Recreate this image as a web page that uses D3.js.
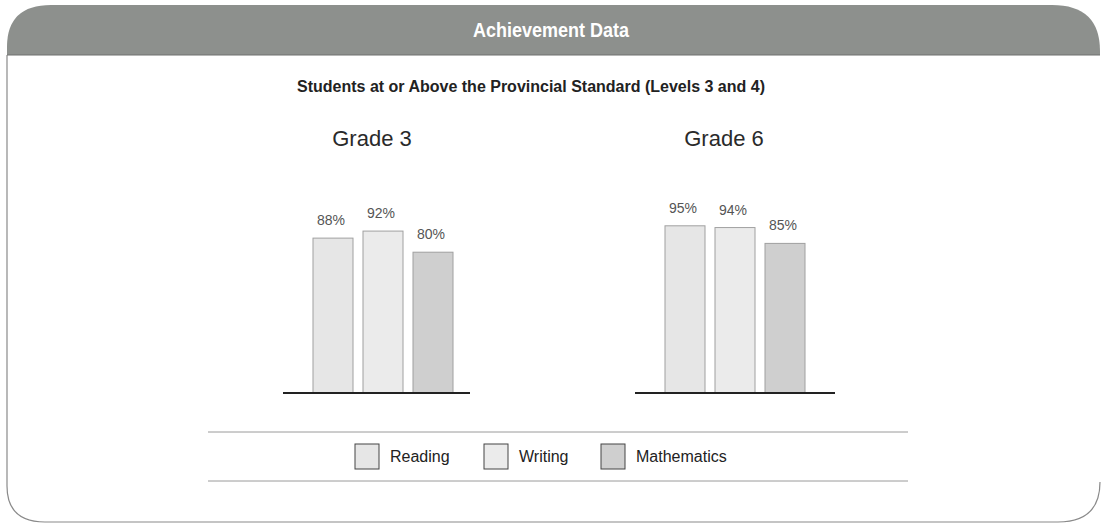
<!DOCTYPE html>
<html>
<head>
<meta charset="utf-8">
<script src="https://cdn.jsdelivr.net/npm/d3@7"></script>
<style>
  body { margin: 0; background: #fff; }
  svg { display: block; font-family: "Liberation Sans", Arial, sans-serif; }
</style>
</head>
<body>
<div id="chart"></div>
<script>
// data
var grades = ["Grade 3", "Grade 6"];
var subjects = ["Reading", "Writing", "Mathematics"];
var grade3 = [88, 92, 80];
var grade6 = [95, 94, 85];
var colours = ["#e6e6e6", "#ebebeb", "#cfcfcf"];

var W = 1102, H = 525;
var svg = d3.select("#chart").append("svg")
    .attr("width", W)
    .attr("height", H);

// card outline + header
var L = 7, T = 5, R = 1100, B = 522, hb = 55;
svg.append("path")
    .attr("d", "M" + L + "," + hb + " L" + L + "," + (B - 36) +
        " Q" + L + "," + B + " " + (L + 38) + "," + B +
        " L" + (R - 42) + "," + B +
        " Q" + R + "," + B + " " + R + "," + (B - 40))
    .attr("fill", "none")
    .attr("stroke", "#8a8a8a")
    .attr("stroke-width", 1.2);

svg.append("path")
    .attr("d", "M" + L + "," + hb + " L" + L + "," + (T + 42) +
        " Q" + L + "," + T + " " + (L + 44) + "," + T +
        " L" + (R - 48) + "," + T +
        " Q" + R + "," + T + " " + R + "," + (hb - 4) +
        " L" + R + "," + hb + " Z")
    .attr("fill", "#8d908d");
svg.append("line")
    .attr("x1", L).attr("x2", R).attr("y1", hb).attr("y2", hb)
    .attr("stroke", "#6f716f").attr("stroke-width", 1);

// condensed header title
svg.append("text")
    .attr("transform", "translate(551,37) scale(0.9,1)")
    .attr("text-anchor", "middle")
    .style("font-weight", "bold")
    .style("font-size", "20px")
    .style("fill", "#fff")
    .text("Achievement Data");

svg.append("text")
    .attr("x", 531).attr("y", 92)
    .attr("text-anchor", "middle")
    .style("font-size", "16px")
    .style("font-weight", "bold")
    .style("fill", "#222")
    .text("Students at or Above the Provincial Standard (Levels 3 and 4)");

var y = d3.scaleLinear().domain([0, 100]).range([393, 217]);

var groups = [
  {name: grades[0], values: grade3, range: [308, 458], axis: [283, 470], cx: 372},
  {name: grades[1], values: grade6, range: [660, 810], axis: [635, 835], cx: 724}
];

groups.forEach(function(g) {
    var x = d3.scaleBand().domain(subjects).range(g.range)
        .paddingInner(0.2).paddingOuter(0.1);
    var gg = svg.append("g");

    gg.append("text")
        .attr("x", g.cx).attr("y", 146)
        .attr("text-anchor", "middle")
        .style("font-size", "22px")
        .style("fill", "#2a2a2a")
        .text(g.name);

    gg.selectAll("rect")
        .data(g.values)
        .enter()
        .append("rect")
        .attr("x", function(d, i) { return x(subjects[i]); })
        .attr("y", function(d) { return y(d); })
        .attr("width", x.bandwidth())
        .attr("height", function(d) { return y(0) - y(d); })
        .attr("fill", function(d, i) { return colours[i]; })
        .attr("stroke", "#a0a0a0")
        .attr("stroke-width", 1);

    gg.selectAll("text.val")
        .data(g.values)
        .enter()
        .append("text")
        .attr("class", "val")
        .attr("x", function(d, i) { return x(subjects[i]) + x.bandwidth() / 2 - 2; })
        .attr("y", function(d) { return y(d) - 13; })
        .attr("text-anchor", "middle")
        .style("font-size", "14px")
        .style("fill", "#555")
        .text(function(d) { return d + "%"; });

    gg.append("line")
        .attr("x1", g.axis[0]).attr("x2", g.axis[1])
        .attr("y1", y(0)).attr("y2", y(0))
        .attr("stroke", "#222").attr("stroke-width", 2);
});

// legend
[432, 481].forEach(function(ly) {
    svg.append("line")
        .attr("x1", 208).attr("x2", 908)
        .attr("y1", ly).attr("y2", ly)
        .attr("stroke", "#9a9a9a").attr("stroke-width", 1);
});

var legendX = [355, 484, 601];
var leg = svg.append("g").selectAll("g")
    .data(subjects)
    .enter()
    .append("g")
    .attr("transform", function(d, i) { return "translate(" + legendX[i] + ",444)"; });
leg.append("rect")
    .attr("width", 24).attr("height", 25)
    .attr("fill", function(d, i) { return colours[i]; })
    .attr("stroke", "#444").attr("stroke-width", 1);
leg.append("text")
    .attr("x", 35).attr("y", 18)
    .style("font-size", "16px")
    .style("fill", "#222")
    .text(function(d) { return d; });
</script>
</body>
</html>
